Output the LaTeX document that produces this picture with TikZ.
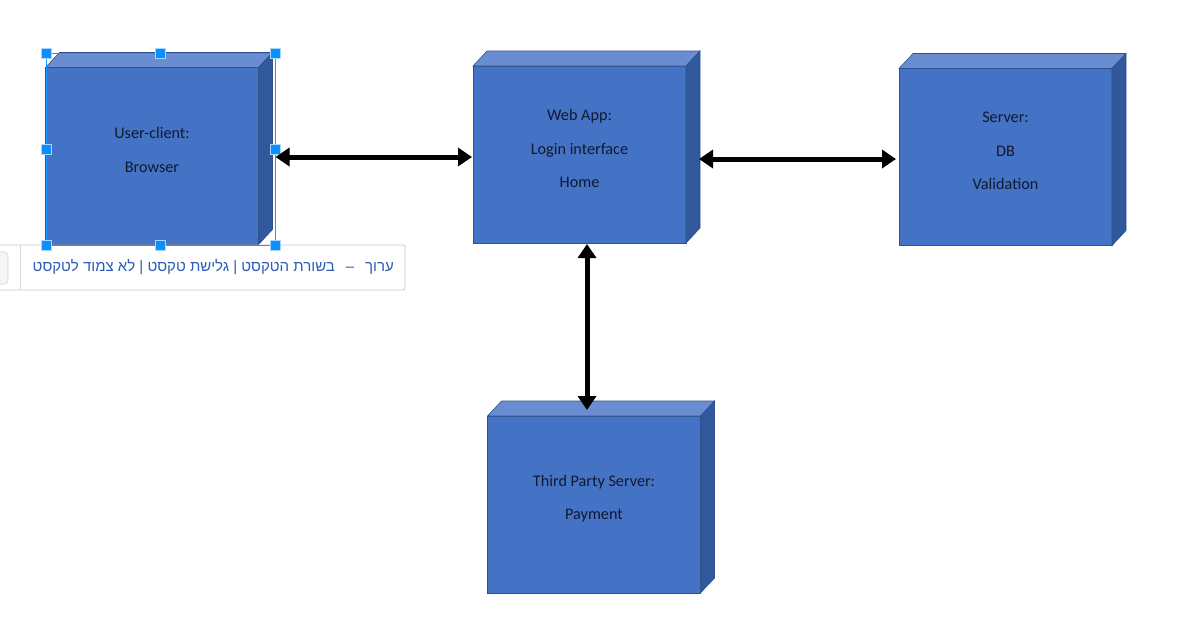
\documentclass[tikz,border=0pt]{standalone}
\usepackage{fontspec}
\setmainfont{Carlito}
\newfontfamily\hebfont[Script=Hebrew]{Liberation Sans}
\TeXXeTstate=1
\usetikzlibrary{arrows.meta}
\definecolor{frontc}{HTML}{4472C4}
\definecolor{topc}{HTML}{6A8DD1}
\definecolor{sidec}{HTML}{30589A}
\definecolor{edgec}{HTML}{2F528F}
\definecolor{txtc}{HTML}{101a30}
\definecolor{selc}{HTML}{1E96FF}
\definecolor{handlefill}{HTML}{0A8FFF}
\definecolor{handleedge}{HTML}{A8D6FF}
\definecolor{hebblue}{HTML}{2A5CB8}
\definecolor{tipedge}{HTML}{C9C9C9}
\newcommand\cubesides[1]{%
  \fill[topc, draw=edgec, line width=0.6pt] (#1.north west) -- ++(14,-15) -- ([shift={(14,-15)}]#1.north east) -- (#1.north east) -- cycle;
  \fill[sidec, draw=edgec, line width=0.6pt] (#1.north east) -- ++(14,-15) -- ([shift={(14,-15)}]#1.south east) -- (#1.south east) -- cycle;
}
\begin{document}
\begin{tikzpicture}[x=1pt,y=-1pt,
  face/.style={draw=edgec, line width=0.6pt, fill=frontc, minimum width=213pt, minimum height=177pt, inner sep=0pt, outer sep=0pt},
  lbl/.style={text=txtc, align=center, inner sep=0pt, font=\fontsize{16.2pt}{33.5pt}\selectfont},
  conn/.style={{Triangle[length=14pt,width=18pt]}-{Triangle[length=14pt,width=18pt]}, line width=5pt, black},
  handle/.style={draw=handleedge, fill=handlefill, minimum size=10pt, inner sep=0pt, line width=0.8pt},
  tipbox/.style={draw=tipedge, fill=white, rounded corners=2pt, line width=0.8pt, minimum width=408pt, minimum height=45pt, inner sep=0pt},
  btn/.style={draw=tipedge!80, fill=black!4, rounded corners=3pt, line width=0.6pt, minimum width=14pt, minimum height=32pt, inner sep=0pt}]
\useasboundingbox (0,0) rectangle (1182,633);
\fill[white] (0,0) rectangle (1182,633);

% boxes
\node[face] (f1) at (152,156) {};
\cubesides{f1}
\node[face] (f2) at (579.5,154.5) {};
\cubesides{f2}
\node[face] (f3) at (1005.5,157) {};
\cubesides{f3}
\node[face] (f4) at (594,504.5) {};
\cubesides{f4}

\node[lbl] (t1) at ([yshift=6pt]f1.center) {User-client:\\Browser};
\node[lbl] (t2) at ([yshift=6pt]f2.center) {Web App:\\Login interface\\Home};
\node[lbl] (t3) at ([yshift=6pt]f3.center) {Server:\\DB\\Validation};
\node[lbl] (t4) at ([yshift=6pt]f4.center) {Third Party Server:\\Payment};

% tooltip
\node[tipbox] (tip) at (201,267.5) {};
\node[btn] (btn) at (1,268) {};
\draw[tipedge!70, line width=0.6pt] ([xshift=-181pt]tip.north) coordinate (d1) -- ([xshift=-181pt]tip.south) coordinate (d2);
\node[anchor=east, text=hebblue, inner sep=0pt, font=\hebfont\fontsize{15pt}{17pt}\selectfont] (heb) at (394,267) {\beginR ערוך\hspace{11pt}–\hspace{11pt}בשורת הטקסט | גלישת טקסט | לא צמוד לטקסט\endR};

% selection
\coordinate (s1) at (46,53);
\coordinate (s2) at (275,245);
\draw[selc, line width=0.8pt] (s1) rectangle (s2);
\foreach \p [count=\i] in {(46,53),(160,53),(275,53),(46,149),(275,149),(46,245),(160,245),(275,245)}
  \node[handle] (h\i) at \p {};

% connectors
\draw[conn] ([xshift=17pt,yshift=-1pt]f1.east) -- ([xshift=-1pt,yshift=-2.5pt]f2.west);
\draw[conn] ([xshift=13pt,yshift=-4.5pt]f2.east) -- ([xshift=-3pt,yshift=-2pt]f3.west);
\draw[conn] ([xshift=7.5pt,yshift=-1pt]f2.south) -- ([xshift=-7pt,yshift=6pt]f4.north);
\end{tikzpicture}
\end{document}
